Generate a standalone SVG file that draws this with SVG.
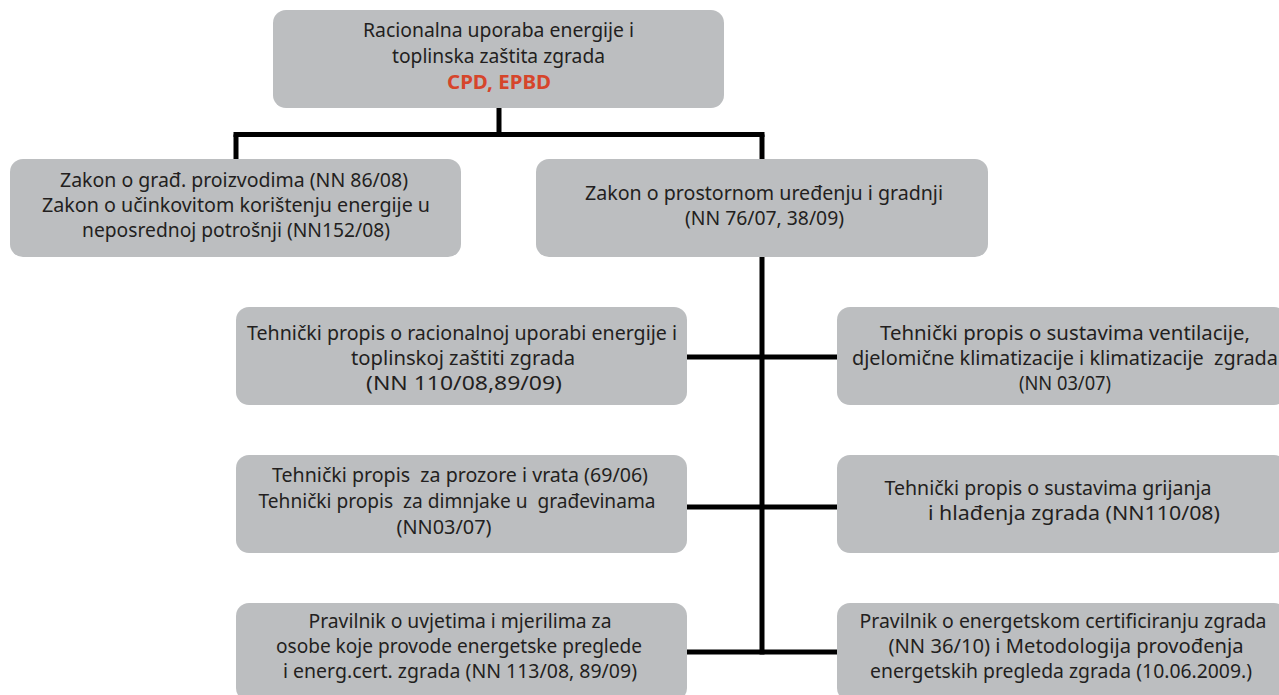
<svg xmlns="http://www.w3.org/2000/svg" width="1279" height="695" viewBox="0 0 1279 695">
<style>
.box{fill:#BCBEC0;}
text{font-family:"Noto Sans","Liberation Sans",sans-serif;font-size:19.5px;fill:#231F20;text-anchor:middle;white-space:pre;}
.red{fill:#D6452B;font-weight:bold;}
.ln{stroke:#000;stroke-width:5;fill:none;stroke-linecap:butt;}
</style>
<rect width="1279" height="695" fill="#FFFFFF"/>
<g id="connectors">
<path class="ln" d="M499 108 V134.5"/>
<path class="ln" d="M233.5 134.5 H764.5"/>
<path class="ln" d="M236 134.5 V159"/>
<path class="ln" d="M762 134.5 V159"/>
<path class="ln" d="M762 257 V654.5"/>
<path class="ln" d="M687 357 H837"/>
<path class="ln" d="M687 507 H837"/>
<path class="ln" d="M687 652 H837"/>
</g>
<g id="n_top">
<rect class="box" x="273" y="10" width="451" height="98" rx="13"/>
<text x="498.5" y="37" textLength="271" lengthAdjust="spacingAndGlyphs">Racionalna uporaba energije i</text>
<text x="498.5" y="63" textLength="213" lengthAdjust="spacingAndGlyphs">toplinska zaštita zgrada</text>
<text class="red" x="499" y="89" textLength="104" lengthAdjust="spacingAndGlyphs">CPD, EPBD</text>
</g>
<g id="n_zakon_grad">
<rect class="box" x="10" y="159" width="451" height="98" rx="13"/>
<text x="234" y="187" textLength="348" lengthAdjust="spacingAndGlyphs">Zakon o građ. proizvodima (NN 86/08)</text>
<text x="236" y="212" textLength="388" lengthAdjust="spacingAndGlyphs">Zakon o učinkovitom korištenju energije u</text>
<text x="236" y="237" textLength="308" lengthAdjust="spacingAndGlyphs">neposrednoj potrošnji (NN152/08)</text>
</g>
<g id="n_zakon_prostor">
<rect class="box" x="536" y="159" width="452" height="98" rx="13"/>
<text x="764" y="200" textLength="358" lengthAdjust="spacingAndGlyphs">Zakon o prostornom uređenju i gradnji</text>
<text x="764.5" y="225" textLength="159" lengthAdjust="spacingAndGlyphs">(NN 76/07, 38/09)</text>
</g>
<g id="n_tp_racionalna">
<rect class="box" x="236" y="307" width="451" height="98" rx="13"/>
<text x="462" y="340" textLength="430" lengthAdjust="spacingAndGlyphs">Tehnički propis o racionalnoj uporabi energije i</text>
<text x="463" y="365" textLength="224" lengthAdjust="spacingAndGlyphs">toplinskoj zaštiti zgrada</text>
<text x="464" y="390" textLength="196" lengthAdjust="spacingAndGlyphs">(NN 110/08,89/09)</text>
</g>
<g id="n_tp_ventilacija">
<rect class="box" x="837" y="307" width="450" height="98" rx="13"/>
<text x="1065" y="340" textLength="370" lengthAdjust="spacingAndGlyphs">Tehnički propis o sustavima ventilacije,</text>
<text x="1065" y="365" textLength="426" lengthAdjust="spacingAndGlyphs">djelomične klimatizacije i klimatizacije  zgrada</text>
<text x="1065" y="390" textLength="92" lengthAdjust="spacingAndGlyphs">(NN 03/07)</text>
</g>
<g id="n_tp_prozori">
<rect class="box" x="236" y="455" width="451" height="98" rx="13"/>
<text x="460" y="482" textLength="376" lengthAdjust="spacingAndGlyphs">Tehnički propis  za prozore i vrata (69/06)</text>
<text x="457" y="508" textLength="397" lengthAdjust="spacingAndGlyphs">Tehnički propis  za dimnjake u  građevinama</text>
<text x="444" y="534" textLength="95" lengthAdjust="spacingAndGlyphs">(NN03/07)</text>
</g>
<g id="n_tp_grijanje">
<rect class="box" x="837" y="455" width="450" height="98" rx="13"/>
<text x="1048" y="495" textLength="327" lengthAdjust="spacingAndGlyphs">Tehnički propis o sustavima grijanja</text>
<text x="1074" y="520" textLength="292" lengthAdjust="spacingAndGlyphs">i hlađenja zgrada (NN110/08)</text>
</g>
<g id="n_pravilnik_uvjeti">
<rect class="box" x="236" y="603" width="451" height="98" rx="13"/>
<text x="460" y="628" textLength="303" lengthAdjust="spacingAndGlyphs">Pravilnik o uvjetima i mjerilima za</text>
<text x="459" y="653" textLength="366" lengthAdjust="spacingAndGlyphs">osobe koje provode energetske preglede</text>
<text x="460" y="678" textLength="354" lengthAdjust="spacingAndGlyphs">i energ.cert. zgrada (NN 113/08, 89/09)</text>
</g>
<g id="n_pravilnik_cert">
<rect class="box" x="837" y="603" width="450" height="98" rx="13"/>
<text x="1063" y="628" textLength="407" lengthAdjust="spacingAndGlyphs">Pravilnik o energetskom certificiranju zgrada</text>
<text x="1066" y="653" textLength="355" lengthAdjust="spacingAndGlyphs">(NN 36/10) i Metodologija provođenja</text>
<text x="1061" y="678" textLength="382" lengthAdjust="spacingAndGlyphs">energetskih pregleda zgrada (10.06.2009.)</text>
</g>
</svg>
